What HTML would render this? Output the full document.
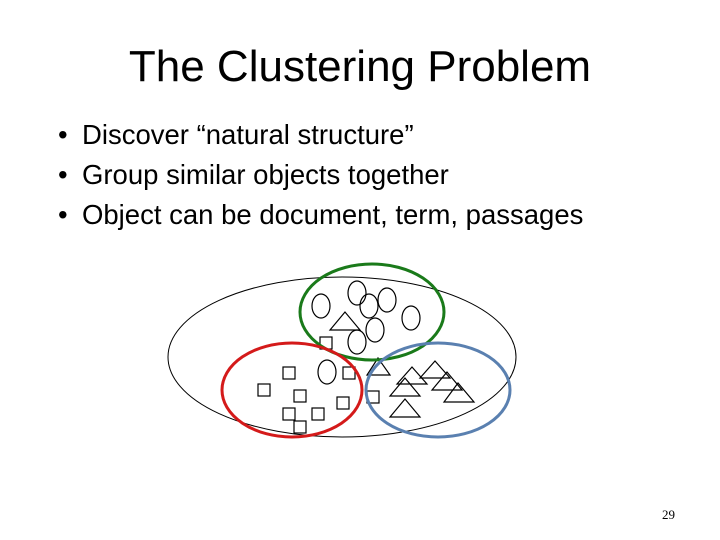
<!DOCTYPE html>
<html><head><style>
body{margin:0;width:720px;height:540px;background:#fff;position:relative;overflow:hidden;font-family:"Liberation Sans",sans-serif}
.t{position:absolute;left:0;width:720px;text-align:center;top:42px;font-size:44px;color:#000}
.b{position:absolute;left:58px;font-size:27.5px;color:#000;line-height:32px}
.b span{position:absolute;left:24px;white-space:nowrap}
</style></head><body>
<div class="t">The Clustering Problem</div>
<div class="b" style="top:119px">•<span>Discover “natural structure”</span></div>
<div class="b" style="top:159px">•<span>Group similar objects together</span></div>
<div class="b" style="top:199px">•<span>Object can be document, term, passages</span></div>
<svg width="720" height="540" style="position:absolute;left:0;top:0" fill="none" stroke="#000">
<ellipse cx="342" cy="357" rx="174" ry="80" stroke-width="1"/>
<g stroke-width="1.2">
<ellipse cx="321" cy="306" rx="9" ry="12"/><ellipse cx="357" cy="293" rx="9" ry="12"/>
<ellipse cx="369" cy="306" rx="9" ry="12"/><ellipse cx="387" cy="300" rx="9" ry="12"/>
<ellipse cx="411" cy="318" rx="9" ry="12"/><ellipse cx="375" cy="330" rx="9" ry="12"/>
<ellipse cx="357" cy="342" rx="9" ry="12"/><ellipse cx="327" cy="372" rx="9" ry="12"/>
<polygon points="345,312 330,330 360,330"/><polygon points="378,358 367,375 390,375"/>
<polygon points="412,367 397,384 427,384"/><polygon points="435,361 420,378 450,378"/>
<polygon points="405,378 390,396 420,396"/><polygon points="447,372 432,390 462,390"/>
<polygon points="458,383 444,402 474,402"/><polygon points="405,399 390,417 420,417"/>
<rect x="320" y="337" width="12" height="12"/><rect x="283" y="367" width="12" height="12"/>
<rect x="343" y="367" width="12" height="12"/><rect x="258" y="384" width="12" height="12"/>
<rect x="294" y="390" width="12" height="12"/><rect x="337" y="397" width="12" height="12"/>
<rect x="367" y="391" width="12" height="12"/><rect x="283" y="408" width="12" height="12"/>
<rect x="312" y="408" width="12" height="12"/><rect x="294" y="421" width="12" height="12"/>
</g>
<ellipse cx="372" cy="312" rx="72" ry="48" stroke="#1a7a1a" stroke-width="3"/>
<ellipse cx="292" cy="390" rx="70" ry="47" stroke="#d41a1a" stroke-width="3"/>
<ellipse cx="438" cy="390" rx="72" ry="47" stroke="#5a80b0" stroke-width="3"/>
</svg>
<div style="position:absolute;left:662px;top:507px;font-family:'Liberation Serif',serif;font-size:13px">29</div>
</body></html>
